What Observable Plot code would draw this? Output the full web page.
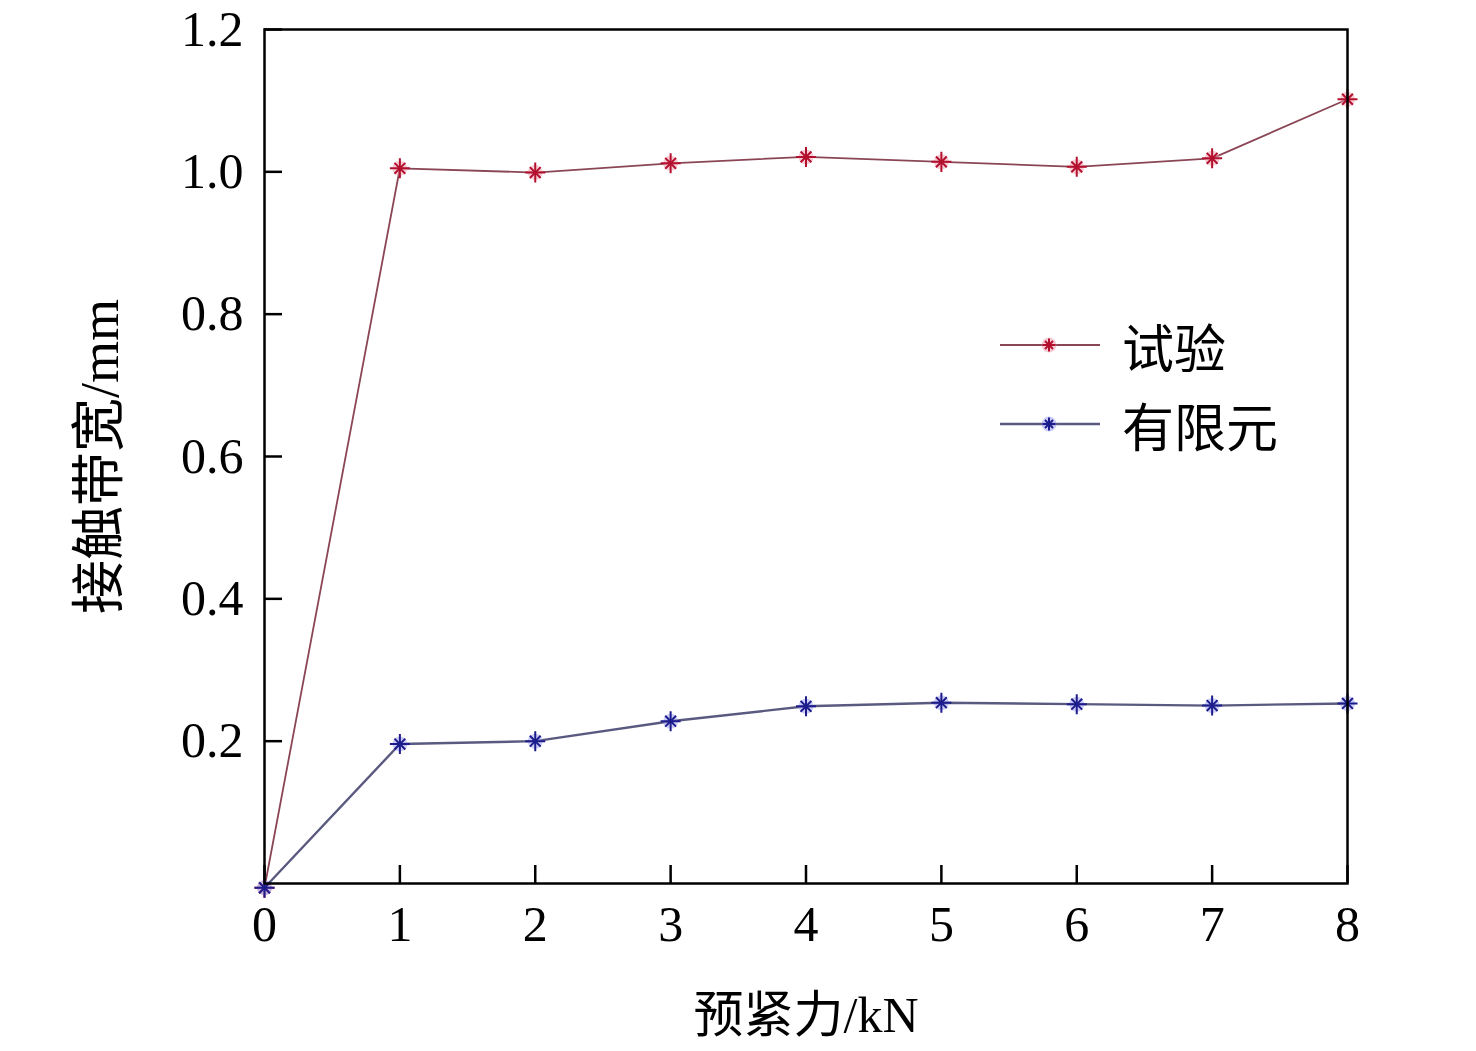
<!DOCTYPE html>
<html>
<head>
<meta charset="utf-8">
<script src="https://cdn.jsdelivr.net/npm/d3@7"></script>
<script src="https://cdn.jsdelivr.net/npm/@observablehq/plot@0.6"></script>
<style>
  html, body { margin: 0; padding: 0; background: #fff; }
  #wrap { position: relative; width: 1476px; height: 1051px; }
  .legend { position: absolute; left: 1000px; font-family: "Liberation Serif", "Noto Sans CJK SC", serif; font-size: 52px; color: #000; }
  .row { position: absolute; left: 0; display: flex; align-items: center; white-space: nowrap; }
  .row span { margin-left: 22px; }
</style>
</head>
<body>
<div id="wrap"></div>
<script>
const force = [0, 1, 2, 3, 4, 5, 6, 7, 8];
const testValues = [-0.006, 1.005, 0.999, 1.012, 1.021, 1.014, 1.007, 1.019, 1.102];
const femValues = [-0.006, 0.196, 0.2, 0.228, 0.249, 0.254, 0.252, 0.25, 0.253];
const seriesNames = ["试验", "有限元"];
const xTicks = [0, 1, 2, 3, 4, 5, 6, 7, 8];
const yTicks = [0.2, 0.4, 0.6, 0.8, 1.0, 1.2];
const xLabel = "预紧力/kN";
const yLabel = "接触带宽/mm";

const lineColors = ["#8b4656", "#5a5a80"];
const markColors = ["#b3102e", "#1c1c8c"];
const haloColors = ["#f29aab", "#9c9cf0"];

const test = force.map((f, i) => ({x: f, y: testValues[i]}));
const fem = force.map((f, i) => ({x: f, y: femValues[i]}));

const font = "'Liberation Serif', 'Noto Sans CJK SC', serif";

function seriesMarks(data, k, lw) {
  return [
    Plot.line(data, {x: "x", y: "y", stroke: lineColors[k], strokeWidth: lw}),
    Plot.dot(data, {x: "x", y: "y", r: 7.5, fill: haloColors[k], fillOpacity: 0.5, stroke: "none"}),
    Plot.dot(data, {x: "x", y: "y", r: 6.5, symbol: "plus", stroke: markColors[k], strokeWidth: 2}),
    Plot.dot(data, {x: "x", y: "y", r: 5, symbol: "times", stroke: markColors[k], strokeWidth: 2})
  ];
}

const chart = Plot.plot({
  width: 1476,
  height: 1051,
  marginTop: 29,
  marginRight: 129,
  marginBottom: 168,
  marginLeft: 264,
  style: {fontFamily: font, background: "#fff", color: "#000"},
  x: {domain: [0, 8]},
  y: {domain: [0, 1.2]},
  marks: [
    Plot.axisX(xTicks, {tickSize: -18, tickPadding: 40, fontSize: 50, tickFormat: d3.format("d"), strokeWidth: 2.5, label: null}),
    Plot.axisY(yTicks, {tickSize: -18, tickPadding: 39, fontSize: 50, tickFormat: d3.format(".1f"), strokeWidth: 2.5, label: null}),
    Plot.text([xLabel], {frameAnchor: "bottom", dy: 132, fontSize: 50, text: d => d, lineAnchor: "middle", textAnchor: "middle"}),
    Plot.text([yLabel], {frameAnchor: "left", dx: -164, rotate: -90, fontSize: 54, text: d => d, lineAnchor: "middle", textAnchor: "middle"}),
    ...seriesMarks(test, 0, 1.8),
    ...seriesMarks(fem, 1, 2.4),
    Plot.frame({stroke: "#000", strokeWidth: 2.5})
  ]
});

const wrap = document.getElementById("wrap");
wrap.appendChild(chart);

// legend overlay
const legend = document.createElement("div");
legend.className = "legend";
legend.style.top = "0px";
const rowsY = [345, 424];
seriesNames.forEach((name, k) => {
  const row = document.createElement("div");
  row.className = "row";
  row.style.top = (rowsY[k] - 35) + "px";
  row.style.height = "70px";
  const lw = k === 0 ? 1.8 : 2.4;
  row.innerHTML = `<svg width="100" height="70" viewBox="0 0 100 70">
    <line x1="0" y1="35" x2="100" y2="35" stroke="${lineColors[k]}" stroke-width="${lw}"/>
    <circle cx="49" cy="35" r="7.5" fill="${haloColors[k]}" fill-opacity="0.5"/>
    <line x1="42.5" y1="35" x2="55.5" y2="35" stroke="${markColors[k]}" stroke-width="2"/>
    <line x1="49" y1="28.5" x2="49" y2="41.5" stroke="${markColors[k]}" stroke-width="2"/>
    <line x1="45" y1="31" x2="53" y2="39" stroke="${markColors[k]}" stroke-width="2"/>
    <line x1="45" y1="39" x2="53" y2="31" stroke="${markColors[k]}" stroke-width="2"/>
  </svg><span>${name}</span>`;
  legend.appendChild(row);
});
wrap.appendChild(legend);
</script>
</body>
</html>
